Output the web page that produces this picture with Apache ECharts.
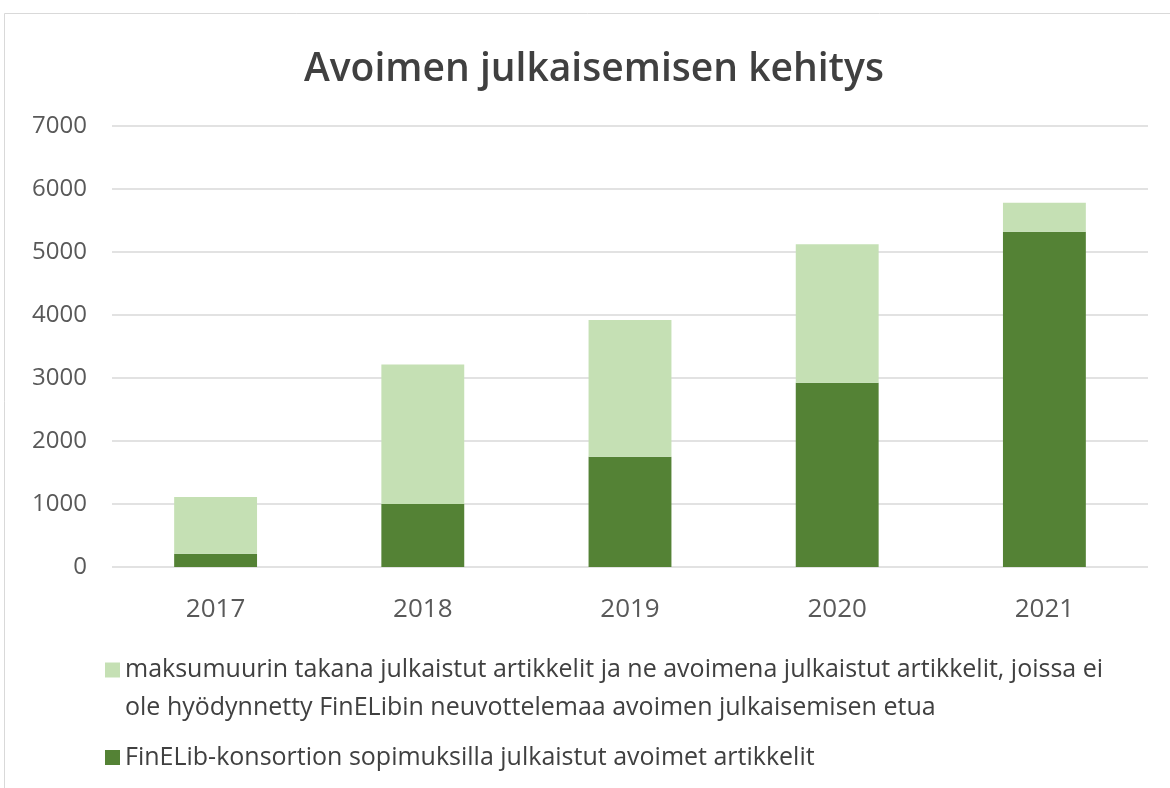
<!DOCTYPE html>
<html>
<head>
<meta charset="utf-8">
<script src="https://cdn.jsdelivr.net/npm/echarts@6/dist/echarts.min.js"></script>
<style>
html,body{margin:0;padding:0;background:#fff;}
#chart{width:1170px;height:788px;}
</style>
</head>
<body>
<div id="chart"></div>
<script>
var YEARS = ['2017', '2018', '2019', '2020', '2021'];
var FINELIB_OPEN = [210, 1000, 1750, 2925, 5320];      // tumma vihreä
var OTHER_ARTICLES = [900, 2215, 2170, 2200, 460];    // vaalea vihreä
var Y_MAX = 7000;
var Y_STEP = 1000;

var NAME_OTHER = 'maksumuurin takana julkaistut artikkelit ja ne avoimena julkaistut artikkelit, joissa ei ole hyödynnetty FinELibin neuvottelemaa avoimen julkaisemisen etua';
var NAME_FINELIB = 'FinELib-konsortion sopimuksilla julkaistut avoimet artikkelit';

var FONT = '"Open Sans", "Noto Sans", sans-serif';

var chart = echarts.init(document.getElementById('chart'));

var option = {
    backgroundColor: '#fff',
    animation: false,
    textStyle: { fontFamily: FONT },
    title: {
        text: 'Avoimen julkaisemisen kehitys',
        left: 299,
        top: 45,
        textStyle: { fontFamily: FONT, fontSize: 39, fontWeight: 600, color: '#404040' }
    },
    graphic: [{
        type: 'rect',
        shape: { x: 4.5, y: 13.5, width: 1200, height: 800 },
        style: { fill: 'none', stroke: '#d9d9d9', lineWidth: 1 },
        silent: true
    }],
    legend: [{
        data: [NAME_OTHER],
        left: 100,
        top: 608,
        orient: 'vertical',
        itemWidth: 15,
        itemHeight: 15,
        icon: 'rect',
        selectedMode: false,
        formatter: function () {
            // tyhjä rivi ylös, jotta ensimmäinen rivi osuu kuvakkeen kohdalle
            return '\nmaksumuurin takana julkaistut artikkelit ja ne avoimena julkaistut artikkelit, joissa ei\nole hyödynnetty FinELibin neuvottelemaa avoimen julkaisemisen etua';
        },
        textStyle: { fontFamily: FONT, fontSize: 25, color: '#404040', lineHeight: 38, padding: [0, 0, 0, 0] }
    }, {
        data: [NAME_FINELIB],
        left: 100,
        top: 740,
        itemWidth: 15,
        itemHeight: 15,
        icon: 'rect',
        selectedMode: false,
        textStyle: { fontFamily: FONT, fontSize: 25, color: '#404040', padding: [0, 0, 0, 0] }
    }],
    grid: {
        left: 112,
        right: 22,
        top: 126,
        bottom: 221
    },
    xAxis: {
        type: 'category',
        data: YEARS,
        axisLine: { show: false },
        axisTick: { show: false },
        axisLabel: { fontFamily: FONT, fontSize: 26, color: '#595959', margin: 30 }
    },
    yAxis: {
        type: 'value',
        min: 0,
        max: Y_MAX,
        interval: Y_STEP,
        axisLine: { show: false },
        axisTick: { show: false },
        axisLabel: {
            fontFamily: FONT, fontSize: 24, color: '#595959', margin: 25,
            formatter: function (v) { return String(v); }
        },
        splitLine: { lineStyle: { color: '#d9d9d9', width: 1.5 } }
    },
    series: [{
        name: NAME_FINELIB,
        type: 'bar',
        stack: 'total',
        data: FINELIB_OPEN,
        barCategoryGap: '60%',
        itemStyle: { color: '#548235' }
    }, {
        name: NAME_OTHER,
        type: 'bar',
        stack: 'total',
        data: OTHER_ARTICLES,
        barCategoryGap: '60%',
        itemStyle: { color: '#c5e0b4' }
    }]
};

chart.setOption(option);
</script>
</body>
</html>
